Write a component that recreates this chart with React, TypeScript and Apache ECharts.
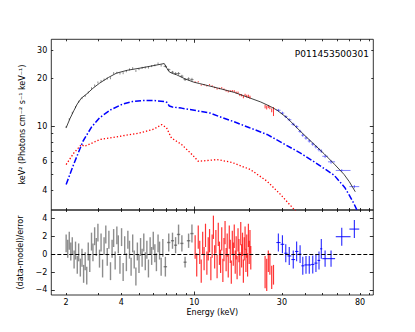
import React, { useEffect, useRef } from 'react';
import * as echarts from 'echarts';

// ---------- data ----------
// total model (black solid), keV and keV^2 flux
const modelE = [2.0, 2.1, 2.2, 2.3, 2.42, 2.6, 2.8, 3.04, 3.4, 3.76, 4.3, 5.04, 5.8, 6.5, 6.85, 7.1, 7.3, 7.6, 8.0, 8.9, 9.9, 10.7, 13.3, 16.5, 20.2, 23, 26, 28.3, 32, 37.9, 44, 50.9, 58, 65.5, 70, 75.4];
const modelF = [9.8, 11.2, 12.5, 13.8, 15.0, 16.0, 17.3, 18.6, 20.2, 21.5, 22.4, 23.1, 23.8, 24.4, 24.7, 23.0, 21.9, 21.4, 21.0, 19.8, 18.9, 18.5, 17.4, 16.3, 15.0, 14.2, 13.3, 12.6, 11.3, 9.3, 7.9, 6.75, 5.8, 5.0, 4.5, 3.9];
// blue dash-dot component
const blueE = [2.0, 2.2, 2.47, 2.75, 3.04, 3.5, 4.08, 4.6, 5.25, 6.0, 6.9, 7.1, 7.3, 7.6, 8.5, 10, 12.2, 14, 16.4, 20, 24.9, 30, 37.9, 46, 57.8, 66, 70, 74, 78];
const blueF = [4.33, 5.8, 8.07, 9.9, 11.3, 12.7, 13.8, 14.3, 14.5, 14.5, 14.3, 14.1, 13.4, 13.2, 13.0, 12.6, 12.1, 11.4, 10.7, 9.8, 8.9, 7.9, 6.8, 5.9, 4.95, 4.15, 3.7, 3.3, 2.9];
// red dotted component
const redE = [2.0, 2.2, 2.42, 2.52, 2.8, 3.04, 4.0, 5.04, 6.0, 6.64, 7.05, 7.3, 7.5, 8.53, 9.1, 9.8, 10.5, 11.5, 13.3, 16, 20.2, 24.9, 29.5, 34.9, 37];
const redF = [5.77, 6.8, 7.69, 7.5, 7.9, 8.26, 8.7, 9.09, 9.6, 10.25, 9.8, 9.0, 8.46, 7.69, 7.16, 6.6, 6.05, 6.1, 6.2, 5.95, 5.37, 4.54, 3.75, 3.03, 2.8];

// LE (gray) spectrum points
const leTopE = [2.00, 2.08, 2.16, 2.25, 2.34, 2.44, 2.54, 2.64, 2.75, 2.86, 2.98, 3.10, 3.22, 3.35, 3.49, 3.63, 3.78, 3.93, 4.09, 4.26, 4.43, 4.61, 4.80, 4.99, 5.19, 5.40, 5.62, 5.85, 6.09, 6.34, 6.59];
const leTopF = [9.9, 11.1, 12.15, 13.2, 14.25, 15.0, 15.5, 16.3, 17.3, 18.0, 18.8, 19.2, 19.6, 19.9, 20.0, 21.5, 21.6, 21.4, 21.5, 22.1, 22.7, 23.1, 22.2, 22.8, 23.2, 23.3, 23.3, 23.8, 24.1, 24.7, 24.0];
const leTopErr = [0.15, 0.17, 0.18, 0.2, 0.21, 0.22, 0.23, 0.24, 0.26, 0.27, 0.28, 0.29, 0.29, 0.3, 0.3, 0.32, 0.32, 0.32, 0.32, 0.33, 0.34, 0.35, 0.33, 0.34, 0.35, 0.35, 0.35, 0.36, 0.36, 0.37, 0.36];
// LE residuals (dense bins)
const leE = [2.00, 2.04, 2.08, 2.12, 2.16, 2.21, 2.25, 2.30, 2.34, 2.39, 2.44, 2.49, 2.54, 2.59, 2.64, 2.69, 2.75, 2.80, 2.86, 2.92, 2.98, 3.04, 3.10, 3.16, 3.22, 3.29, 3.35, 3.42, 3.49, 3.56, 3.63, 3.70, 3.78, 3.85, 3.93, 4.01, 4.09, 4.17, 4.26, 4.34, 4.43, 4.52, 4.61, 4.70, 4.80, 4.89, 4.99, 5.09, 5.19, 5.30, 5.40, 5.51, 5.62, 5.74, 5.85, 5.97, 6.09, 6.21, 6.34, 6.46, 6.59, 6.73];
const leRes = [1.2, 0.6, 1.5, 0.3, 0.9, -0.6, 0.4, -1.2, 0.2, -1.5, -0.4, -2.2, -0.8, -2.4, 0.3, -1.0, 1.4, 0.2, 2.0, 0.8, 2.4, -0.5, 1.3, -1.6, 0.9, 2.2, -0.3, 1.6, -1.9, 0.6, 1.8, -0.7, 2.1, 1.1, -1.2, 1.9, -2.0, 1.0, -0.9, 1.6, 0.5, -1.4, 1.2, -0.6, -2.5, 0.3, -1.1, 0.8, -0.4, 1.3, -0.8, 0.5, -1.6, 0.9, -0.2, 1.5, 0.1, -0.9, 1.2, 0.4, -1.4, 0.7];
const leResErr = 1.0;
// LE wide bins (7-10 keV)
const leWideE = [6.95, 7.25, 7.6, 7.9, 8.2, 8.55, 8.9, 9.3, 9.7];
const leWideHalf = [0.15, 0.15, 0.15, 0.15, 0.17, 0.17, 0.17, 0.2, 0.2];
const leWideF = [23.7, 22.6, 21.8, 21.4, 21.4, 20.6, 19.6, 19.8, 19.6];
const leWideFErr = [0.4, 0.4, 0.4, 0.4, 0.45, 0.4, 0.4, 0.45, 0.5];
const leWideRes = [-1.4, 1.3, 1.5, 1.0, 2.2, 1.2, -0.9, 1.5, 2.3];
const leWideResErr = [1.1, 1.0, 0.9, 0.9, 1.1, 0.9, 0.6, 0.8, 1.0];

// ME (red) spectrum
const meTopE = [10.1, 10.5, 10.9, 11.3, 11.7, 12.1, 12.5, 12.9, 13.3, 13.7, 14.1, 14.5, 14.9, 15.3, 15.7, 16.1, 16.5, 16.9, 17.3, 17.7, 18.1, 18.5, 18.9, 19.3, 19.7, 20.1];
const meTopF = [18.95, 19.0, 18.1, 18.2, 17.9, 18.2, 17.9, 17.5, 17.15, 17.25, 17.4, 17.05, 16.7, 16.5, 16.6, 16.65, 16.6, 16.25, 16.25, 15.7, 15.65, 15.25, 15.7, 15.45, 15.45, 15.2];
const meTopErr = [0.15, 0.15, 0.15, 0.16, 0.16, 0.17, 0.17, 0.18, 0.18, 0.19, 0.19, 0.2, 0.2, 0.21, 0.21, 0.22, 0.22, 0.23, 0.24, 0.25, 0.26, 0.27, 0.28, 0.3, 0.32, 0.34];
const meE = [10.1, 10.3, 10.5, 10.7, 10.9, 11.1, 11.3, 11.5, 11.7, 11.9, 12.1, 12.3, 12.5, 12.7, 12.9, 13.1, 13.3, 13.5, 13.7, 13.9, 14.1, 14.3, 14.5, 14.7, 14.9, 15.1, 15.3, 15.5, 15.7, 15.9, 16.1, 16.3, 16.5, 16.7, 16.9, 17.1, 17.3, 17.5, 17.7, 17.9, 18.1, 18.3, 18.5, 18.7, 18.9, 19.1, 19.3, 19.5, 19.7, 19.9, 20.1, 20.3];
const meRes = [0.8, -1.2, 1.9, 0.2, -1.9, 1.2, -0.5, 2.1, -1.0, 0.6, 1.5, -1.6, 0.9, 3.0, -0.3, 1.4, -1.4, 2.2, 0.1, -0.8, 1.7, -1.8, 0.5, 2.4, -0.6, 1.0, -1.3, 1.9, 0.3, -2.0, 1.3, 0.0, 2.0, -0.9, 0.7, -1.5, 1.6, 0.4, -1.1, 2.3, -0.2, 1.1, -1.9, 0.6, 1.8, -0.7, 0.9, -1.2, 2.1, 0.2, 1.4, -0.4];
const meResErr = 1.3;
// ME second block
const me2E = [24.3, 24.8, 25.3, 25.8, 26.4, 27.0];
const me2F = [13.3, 13.1, 13.3, 13.1, 12.6, 12.4];
const me2FErr = [0.35, 0.35, 0.3, 0.3, 0.35, 0.8];
const me2Res = [-2.0, -2.3, -0.8, -1.1, -2.6, -2.3];
const me2ResErr = [1.8, 1.8, 1.2, 1.2, 1.3, 1.1];

// HE (blue) spectrum
const heE = [28.7, 30.2, 31.5, 32.9, 34.6, 36.1, 37.7, 39.0, 40.6, 42.3, 44.2, 46.0, 47.8, 49.2, 51.6, 55.6, 63.6, 74.5];
const heLo = [28.0, 29.5, 30.9, 32.2, 33.8, 35.4, 36.9, 38.3, 39.8, 41.5, 43.3, 45.1, 46.9, 48.5, 49.8, 53.5, 59.0, 70.0];
const heHi = [29.5, 30.9, 32.2, 33.8, 35.4, 36.9, 38.3, 39.8, 41.5, 43.3, 45.1, 46.9, 48.5, 49.8, 53.5, 58.5, 71.0, 79.2];
const heF = [12.6, 12.1, 11.5, 11.0, 10.3, 9.95, 9.3, 8.8, 8.45, 8.1, 7.75, 7.45, 7.15, 7.0, 6.5, 6.0, 5.3, 4.2];
const heFErr = [0.25, 0.25, 0.24, 0.23, 0.22, 0.22, 0.21, 0.2, 0.2, 0.19, 0.19, 0.18, 0.18, 0.18, 0.17, 0.17, 0.1, 0.1];
const heRes = [1.3, 1.1, 0.1, -0.2, -0.6, 0.3, 0.0, -1.3, -1.2, -1.2, -1.15, -1.0, -0.7, 0.6, -0.5, -0.5, 1.95, 2.8];
const heResErr = [1.0, 1.0, 1.0, 1.0, 1.0, 1.1, 1.0, 1.0, 1.0, 1.0, 1.0, 1.0, 1.0, 1.1, 0.9, 0.9, 1.0, 1.0];

// ticks
const xMinorTicks = [2, 3, 4, 5, 6, 7, 8, 9, 20, 30, 40, 50, 60, 70, 80, 90];
const xMajorTicks = [10];
const xTickLabels = [2, 4, 10, 30, 80];
const yMinorTicks = [4, 5, 6, 7, 8, 9, 20, 30];
const yMajorTicks = [10];
const yTickLabels = [4, 6, 10, 20, 30];
const resTicks = [-4, -2, 0, 2, 4];

const obsId = 'P011453500301';

// ---------- helpers ----------
const FONT = 'DejaVu Sans';
const L = (v: number) => Math.log10(v);
const X_RANGE = [L(1.66), L(94.5)];
const Y_RANGE = [L(3.0), L(35)];
const R_RANGE = [-4.56, 4.93];

function fmtLog(v: number) {
  return String(Math.round(Math.pow(10, v)));
}
function fmtLin(v: number) {
  return v < 0 ? '\u2212' + Math.abs(v) : String(v);
}

function xAxis(gridIndex: number, position: string, ticks: number[], len: number, labels?: number[], name?: string) {
  return {
    type: 'value', gridIndex, position, min: X_RANGE[0], max: X_RANGE[1],
    axisLine: { show: false, onZero: false },
    splitLine: { show: false },
    axisTick: { show: true, inside: true, length: len, customValues: ticks.map(L), lineStyle: { color: '#000', width: 0.8 } },
    axisLabel: labels
      ? { show: true, customValues: labels.map(L), formatter: fmtLog, margin: 3, fontSize: 8, fontFamily: FONT, color: '#000' }
      : { show: false },
    name: name || '',
    nameLocation: 'middle',
    nameGap: 13,
    nameTextStyle: { fontSize: 8, fontFamily: FONT, color: '#000' },
  };
}
function yAxisLog(gridIndex: number, position: string, ticks: number[], len: number, labels?: number[], name?: string) {
  return {
    type: 'value', gridIndex, position, min: Y_RANGE[0], max: Y_RANGE[1],
    axisLine: { show: false, onZero: false },
    splitLine: { show: false },
    axisTick: { show: true, inside: true, length: len, customValues: ticks.map(L), lineStyle: { color: '#000', width: 0.8 } },
    axisLabel: labels
      ? { show: true, customValues: labels.map(L), formatter: fmtLog, margin: 4, fontSize: 8, fontFamily: FONT, color: '#000' }
      : { show: false },
    name: name || '',
    nameLocation: 'middle',
    nameGap: 16,
    nameTextStyle: { fontSize: 8, fontFamily: FONT, color: '#000' },
  };
}
function yAxisRes(gridIndex: number, position: string, labels: boolean, name?: string) {
  return {
    type: 'value', gridIndex, position, min: R_RANGE[0], max: R_RANGE[1],
    axisLine: { show: false, onZero: false },
    splitLine: { show: false },
    axisTick: { show: true, inside: true, length: 3.5, customValues: resTicks, lineStyle: { color: '#000', width: 0.8 } },
    axisLabel: labels
      ? { show: true, customValues: resTicks, formatter: fmtLin, margin: 4, fontSize: 8, fontFamily: FONT, color: '#000' }
      : { show: false },
    name: name || '',
    nameLocation: 'middle',
    nameGap: 16,
    nameTextStyle: { fontSize: 8, fontFamily: FONT, color: '#000' },
  };
}

function errSeries(data: number[][], xi: number, yi: number, color: string, lw: number, z: number) {
  return {
    type: 'custom', coordinateSystem: 'cartesian2d', xAxisIndex: xi, yAxisIndex: yi, silent: true, z,
    encode: { x: [0, 1, 2], y: [3, 4, 5] },
    data,
    renderItem: (params: any, api: any) => {
      const x = api.value(0), xl = api.value(1), xh = api.value(2);
      const y = api.value(3), yl = api.value(4), yh = api.value(5);
      const a = api.coord([x, yh]);
      const b = api.coord([x, yl]);
      const children: any[] = [
        { type: 'line', shape: { x1: a[0], y1: a[1], x2: b[0], y2: b[1] }, style: { stroke: color, lineWidth: lw } },
      ];
      if (xh > xl) {
        const c = api.coord([xl, y]);
        const d = api.coord([xh, y]);
        children.push({ type: 'line', shape: { x1: c[0], y1: c[1], x2: d[0], y2: d[1] }, style: { stroke: color, lineWidth: lw } });
      }
      return { type: 'group', children };
    },
  };
}

// build rows: [x, xlo, xhi, y, ylo, yhi]
const topRow = (e: number, el: number, eh: number, f: number, err: number) => [L(e), L(el), L(eh), L(f), L(f - err), L(f + err)];
const resRow = (e: number, el: number, eh: number, r: number, err: number) => [L(e), L(el), L(eh), r, r - err, r + err];

export default function App() {
  const ref = useRef<HTMLDivElement>(null);
  useEffect(() => {
    if (!ref.current) return;
    const chart = echarts.init(ref.current, null, { renderer: 'svg' });

    const leTop = leTopE.map((e, i) => topRow(e, e, e, leTopF[i], leTopErr[i]))
      .concat(leWideE.map((e, i) => topRow(e, e - leWideHalf[i], e + leWideHalf[i], leWideF[i], leWideFErr[i])));
    const leResData = leE.map((e, i) => resRow(e, e, e, leRes[i], leResErr))
      .concat(leWideE.map((e, i) => resRow(e, e - leWideHalf[i], e + leWideHalf[i], leWideRes[i], leWideResErr[i])));
    const meTop = meTopE.map((e, i) => topRow(e, e, e, meTopF[i], meTopErr[i]))
      .concat(me2E.map((e, i) => topRow(e, e, e, me2F[i], me2FErr[i])));
    const meResData = meE.map((e, i) => resRow(e, e, e, meRes[i], meResErr))
      .concat(me2E.map((e, i) => resRow(e, e, e, me2Res[i], me2ResErr[i])));
    const heTop = heE.map((e, i) => topRow(e, heLo[i], heHi[i], heF[i], heFErr[i]));
    const heResData = heE.map((e, i) => resRow(e, heLo[i], heHi[i], heRes[i], heResErr[i]));

    const gray = 'rgba(80,80,80,0.65)';
    const red = 'rgba(255,0,0,0.8)';

    chart.setOption({
      animation: false,
      backgroundColor: '#fff',
      title: {
        text: obsId, right: 46, top: 49, padding: 0,
        textStyle: { fontSize: 9, fontWeight: 'normal', fontFamily: FONT, color: '#000' },
      },
      grid: [
        { left: 51.3, top: 39.3, width: 322, height: 170.7, show: true, borderColor: '#000', borderWidth: 0.8, backgroundColor: 'transparent' },
        { left: 51.3, top: 210, width: 322, height: 85, show: true, borderColor: '#000', borderWidth: 0.8, backgroundColor: 'transparent' },
      ],
      xAxis: [
        xAxis(0, 'bottom', xMinorTicks, 2),
        xAxis(0, 'bottom', xMajorTicks, 3.5),
        xAxis(0, 'top', xMinorTicks, 2),
        xAxis(0, 'top', xMajorTicks, 3.5),
        xAxis(1, 'bottom', xMinorTicks, 2, xTickLabels, 'Energy (keV)'),
        xAxis(1, 'bottom', xMajorTicks, 3.5),
        xAxis(1, 'top', xMinorTicks, 2),
        xAxis(1, 'top', xMajorTicks, 3.5),
      ],
      yAxis: [
        yAxisLog(0, 'left', yMinorTicks, 2, yTickLabels, 'keV\u00B2 (Photons cm\u207B\u00B2 s\u207B\u00B9 keV\u207B\u00B9)'),
        yAxisLog(0, 'left', yMajorTicks, 3.5),
        yAxisLog(0, 'right', yMinorTicks, 2),
        yAxisLog(0, 'right', yMajorTicks, 3.5),
        yAxisRes(1, 'left', true, '(data-model)/error'),
        yAxisRes(1, 'right', false),
      ],
      series: [
        errSeries(leTop, 0, 0, gray, 1, 2),
        errSeries(meTop, 0, 0, red, 1, 2),
        errSeries(heTop, 0, 0, 'rgba(0,0,255,0.5)', 1, 2),
        {
          type: 'line', xAxisIndex: 0, yAxisIndex: 0, z: 3, symbol: 'none', silent: true,
          data: redE.map((e, i) => [L(e), L(redF[i])]),
          lineStyle: { color: '#ff0000', width: 1.3, type: [1.3, 2] },
        },
        {
          type: 'line', xAxisIndex: 0, yAxisIndex: 0, z: 3, symbol: 'none', silent: true,
          data: blueE.map((e, i) => [L(e), L(blueF[i])]),
          lineStyle: { color: '#0000ff', width: 1.5, type: [6, 2, 1.5, 2] },
        },
        {
          type: 'line', xAxisIndex: 0, yAxisIndex: 0, z: 4, symbol: 'none', silent: true,
          data: modelE.map((e, i) => [L(e), L(modelF[i])]),
          lineStyle: { color: '#111', width: 0.8 },
        },
        errSeries(leResData, 4, 4, gray, 1.4, 2),
        errSeries(meResData, 4, 4, red, 1.2, 2),
        {
          ...errSeries(heResData, 4, 4, 'rgba(0,0,255,0.85)', 1.1, 3),
          markLine: {
            silent: true, symbol: 'none', label: { show: false },
            lineStyle: { color: '#000', width: 1, type: [4, 2] },
            data: [{ yAxis: 0 }],
          },
        },
      ],
    });
    return () => chart.dispose();
  }, []);
  return <div ref={ref} style={{ position: 'fixed', left: 0, top: 0, width: 415, height: 332, background: '#fff' }} />;
}
